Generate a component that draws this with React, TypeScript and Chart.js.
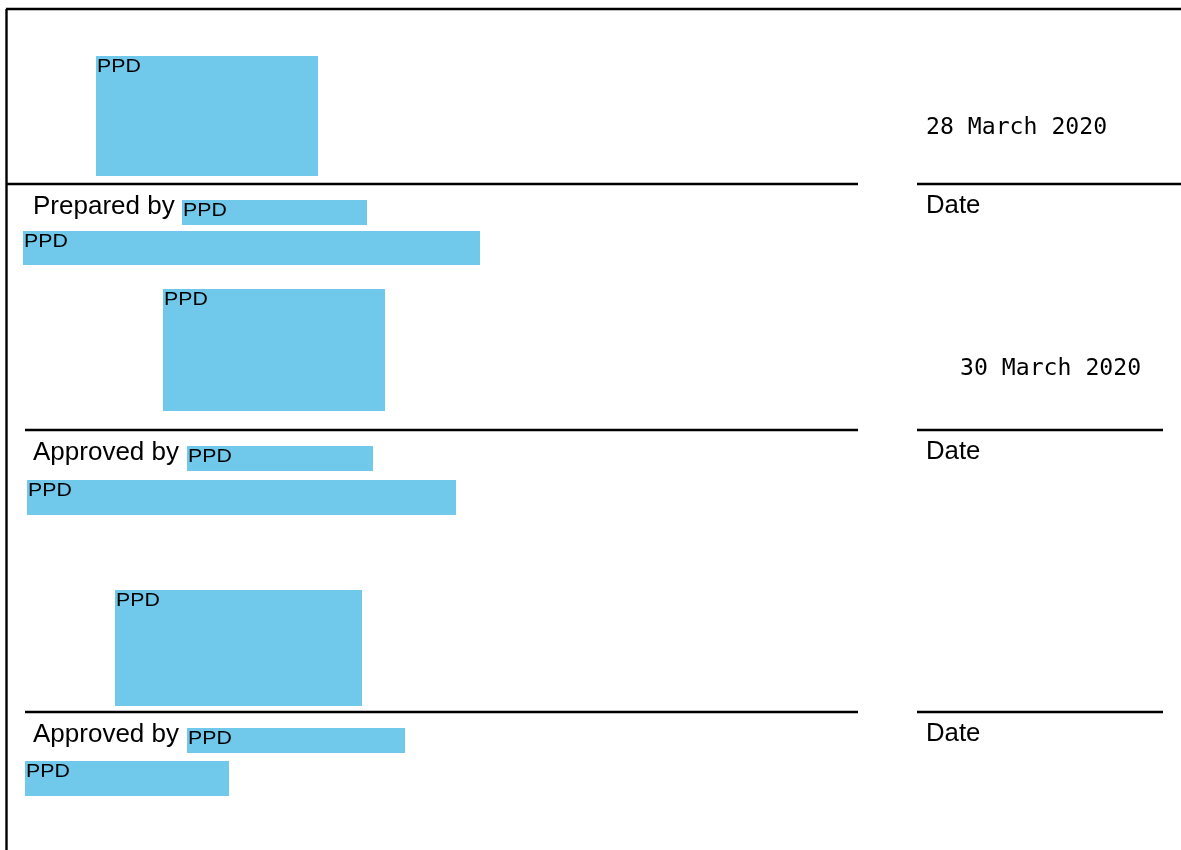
import { useEffect, useRef } from "react";
import Chart from "chart.js/auto";

// Page coordinate space (x: 0..1181, y: 0..850, y grows downward)
const PAGE_W = 1181;
const PAGE_H = 850;

// Redaction boxes ("PPD")
const boxLabels = ["PPD", "PPD", "PPD", "PPD", "PPD", "PPD", "PPD", "PPD", "PPD"];
const boxX0 = [96, 182, 23, 163, 187, 27, 115, 187, 25];
const boxX1 = [318, 367, 480, 385, 373, 456, 362, 405, 229];
const boxY0 = [56, 200, 231, 289, 446, 480, 590, 728, 761];
const boxY1 = [176, 225, 265, 411, 471, 515, 706, 753, 796];

// Signature sections
const roleLabels = ["Prepared by", "Approved by", "Approved by"];
const ruleY = [184, 430, 712];
const ruleLeftStart = [6, 25, 25];
const ruleLeftEnd = [858, 858, 858];
const ruleRightStart = [917, 917, 917];
const ruleRightEnd = [1181, 1163, 1163];
const dateLabel = "Date";

// Signed dates
const dateValues = ["28 March 2020", "30 March 2020"];
const dateValueX = [926, 960];
const dateValueY = [134, 375];

// Frame
const frameTop = [{ x: 6, y: 9 }, { x: 1181, y: 9 }];
const frameLeft = [{ x: 6.5, y: 9 }, { x: 6.5, y: 850 }];

const BOX_COLOR = "#70C9EB";
const INK = "#000000";
const SANS = "'Liberation Sans', Arial, sans-serif";
const MONO = "'DejaVu Sans Mono', monospace";

function stretchedText(
  ctx: CanvasRenderingContext2D,
  text: string,
  px: number,
  py: number,
  font: string,
  sx: number
) {
  ctx.save();
  ctx.font = font;
  ctx.fillStyle = INK;
  ctx.textBaseline = "alphabetic";
  ctx.textAlign = "left";
  ctx.translate(px, py);
  ctx.scale(sx, 1);
  ctx.fillText(text, 0, 0);
  ctx.restore();
}

const boxesPlugin = {
  id: "boxes",
  beforeDatasetsDraw(chart: any) {
    const { ctx } = chart;
    const xs = chart.scales.x;
    const ys = chart.scales.y;
    ctx.save();
    ctx.fillStyle = BOX_COLOR;
    for (let i = 0; i < boxLabels.length; i++) {
      const l = xs.getPixelForValue(boxX0[i]);
      const r = xs.getPixelForValue(boxX1[i]);
      const t = ys.getPixelForValue(boxY0[i]);
      const b = ys.getPixelForValue(boxY1[i]);
      ctx.fillRect(l, t, r - l, b - t);
    }
    ctx.restore();
  },
  afterDatasetsDraw(chart: any) {
    const { ctx } = chart;
    const xs = chart.scales.x;
    const ys = chart.scales.y;
    for (let i = 0; i < boxLabels.length; i++) {
      stretchedText(
        ctx,
        boxLabels[i],
        xs.getPixelForValue(boxX0[i]) + 1,
        ys.getPixelForValue(boxY0[i]) + 16,
        `19px ${SANS}`,
        1.12
      );
    }
    for (let i = 0; i < roleLabels.length; i++) {
      const base = ys.getPixelForValue(ruleY[i]) + 30;
      stretchedText(ctx, roleLabels[i], xs.getPixelForValue(33), base, `25px ${SANS}`, 1.04);
      stretchedText(ctx, dateLabel, xs.getPixelForValue(926), base - 1, `25px ${SANS}`, 1.03);
    }
    for (let i = 0; i < dateValues.length; i++) {
      stretchedText(
        ctx,
        dateValues[i],
        xs.getPixelForValue(dateValueX[i]),
        ys.getPixelForValue(dateValueY[i]),
        `23.5px ${MONO}`,
        0.985
      );
    }
  },
};

function lineDataset(points: { x: number; y: number }[]) {
  return {
    data: points,
    showLine: true,
    borderColor: INK,
    borderWidth: 2.4,
    pointRadius: 0,
    pointHoverRadius: 0,
    fill: false,
    clip: false as any,
  };
}

export default function App() {
  const ref = useRef<HTMLCanvasElement>(null);
  useEffect(() => {
    document.body.style.margin = "0";
    const datasets: any[] = [lineDataset(frameTop), lineDataset(frameLeft)];
    for (let i = 0; i < ruleY.length; i++) {
      datasets.push(
        lineDataset([
          { x: ruleLeftStart[i], y: ruleY[i] },
          { x: ruleLeftEnd[i], y: ruleY[i] },
        ])
      );
      datasets.push(
        lineDataset([
          { x: ruleRightStart[i], y: ruleY[i] },
          { x: ruleRightEnd[i], y: ruleY[i] },
        ])
      );
    }
    const chart = new Chart(ref.current!, {
      type: "scatter",
      data: { datasets },
      options: {
        animation: false,
        responsive: false,
        devicePixelRatio: 1,
        layout: { padding: 0 },
        events: [],
        plugins: {
          legend: { display: false },
          tooltip: { enabled: false },
          title: { display: false },
        },
        scales: {
          x: { type: "linear", min: 0, max: PAGE_W, display: false },
          y: { type: "linear", min: 0, max: PAGE_H, reverse: true, display: false },
        },
      },
      plugins: [boxesPlugin],
    } as any);
    return () => chart.destroy();
  }, []);
  return (
    <div
      style={{
        position: "absolute",
        left: 0,
        top: 0,
        width: PAGE_W,
        height: PAGE_H,
        background: "#ffffff",
      }}
    >
      <canvas ref={ref} width={PAGE_W} height={PAGE_H} style={{ display: "block" }} />
    </div>
  );
}
